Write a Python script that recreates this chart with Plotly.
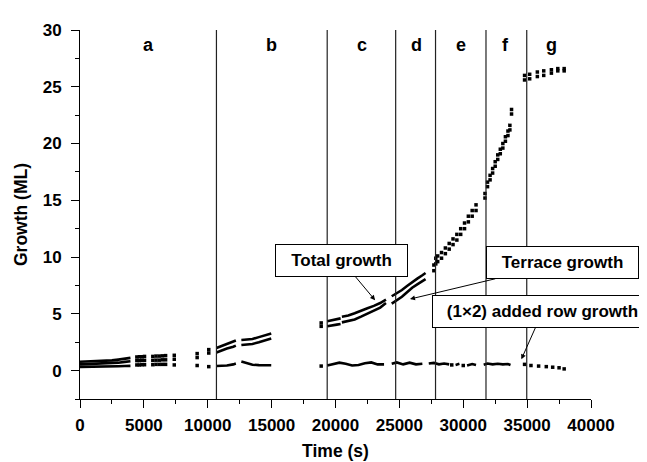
import plotly.graph_objects as go

# ---------------- data ----------------
# Region boundaries (s) and labels
boundaries = [10680, 19350, 24710, 27830, 31780, 34970]
region_labels = ["a", "b", "c", "d", "e", "f", "g"]
region_label_t = [5390, 15020, 22050, 26350, 29840, 33280, 36880]
region_label_g = 28.7

# Continuous (densely sampled) segments: None separates segments
total_line_t = [0, 500, 1000, 1500, 2000, 2500, 3000, 3500, 3950, None,
                10680, 11000, 11500, 12000, 12200, None,
                12630, 13000, 13500, 14000, 14500, 14970, None,
                19350, 19700, 20100, 20400, None,
                20500, 21000, 21500, 22000, 22500, 23000, 23500, 23950, None,
                24400, 24800, 25200, 25600, 26000, 26400, 26800, 27050]
total_line_g = [0.78, 0.8, 0.82, 0.85, 0.88, 0.9, 0.97, 1.07, 1.12, None,
                2.0, 2.15, 2.35, 2.55, 2.65, None,
                2.7, 2.72, 2.78, 2.95, 3.15, 3.27, None,
                4.35, 4.45, 4.55, 4.6, None,
                4.75, 4.85, 5.05, 5.3, 5.5, 5.7, 5.95, 6.25, None,
                6.55, 6.8, 7.1, 7.45, 7.8, 8.1, 8.4, 8.6]

terrace_line_t = total_line_t
terrace_line_g = [0.55, 0.57, 0.6, 0.62, 0.64, 0.66, 0.7, 0.77, 0.83, None,
                  1.6, 1.75, 1.95, 2.1, 2.2, None,
                  2.25, 2.3, 2.35, 2.5, 2.7, 2.83, None,
                  3.9, 4.0, 4.05, 4.1, None,
                  4.25, 4.35, 4.5, 4.75, 5.0, 5.25, 5.55, 5.95, None,
                  5.9, 6.2, 6.5, 6.9, 7.3, 7.6, 7.85, 8.05]

added_line_t = [0, 500, 1000, 1500, 2000, 2500, 3000, 3500, 3950, None,
                10680, 11000, 11500, 12000, 12200, None,
                12630, 13000, 13500, 14000, 14500, 14970, None,
                19350, 19800, 20300, 20800, 21300, 21800, 22300, 22800, 23300, 23800, None,
                24400, 24800, 25300, 25800, 26300, 26800, None,
                27300, 27700, 28100, 28500, 28900, None,
                29400, 29700, None, 30300, 30700, 31000, None,
                31600, 31900, 32300, 32700, 33100, 33500, 33700]
added_line_g = [0.33, 0.33, 0.34, 0.35, 0.36, 0.37, 0.38, 0.4, 0.42, None,
                0.4, 0.42, 0.45, 0.55, 0.62, None,
                0.8, 0.68, 0.52, 0.48, 0.48, 0.47, None,
                0.45, 0.6, 0.7, 0.6, 0.45, 0.5, 0.65, 0.72, 0.55, 0.55, None,
                0.6, 0.72, 0.55, 0.7, 0.55, 0.6, None,
                0.62, 0.68, 0.55, 0.62, 0.55, None,
                0.5, 0.6, None, 0.45, 0.58, 0.5, None,
                0.52, 0.62, 0.55, 0.6, 0.55, 0.58, 0.5]

# Sparse (individually visible) points
total_pts_t = [4450, 4650, 4850, 5050, 5700, 5950, 6200, 6450, 6700, 7380, 9170, 10080,
               18880,
               27700, 27850, 28000, 28300, 28600, 28900, 29200, 29500, 29800, 30100, 30400, 30700, 31000,
               31700, 31900, 32100, 32300, 32500, 32700, 32900, 33100, 33300, 33500, 33650, 33780,
               34800, 35200, 35800, 36300, 36900, 37400, 37900]
total_pts_g = [1.2, 1.22, 1.22, 1.25, 1.25, 1.28, 1.28, 1.3, 1.32, 1.35, 1.5, 1.85,
               4.2,
               9.3, 9.9, 10.1, 10.4, 10.8, 11.2, 11.6, 12.0, 12.5, 13.0, 13.6, 14.1, 14.6,
               15.6, 16.6, 17.2, 17.8, 18.4, 19.0, 19.5, 20.0, 20.6, 21.1, 21.6, 23.0,
               26.0, 26.1, 26.3, 26.4, 26.5, 26.6, 26.6]

terrace_pts_t = total_pts_t
terrace_pts_g = [0.88, 0.88, 0.9, 0.9, 0.9, 0.92, 0.92, 0.95, 0.95, 1.0, 1.15, 1.55,
                 3.9,
                 8.8, 9.4, 9.6, 9.9, 10.3, 10.7, 11.1, 11.5, 12.0, 12.5, 13.1, 13.6, 14.1,
                 15.2, 16.2, 16.8, 17.4, 18.0, 18.6, 19.1, 19.6, 20.2, 20.7, 21.2, 22.6,
                 25.6, 25.7, 25.9, 26.0, 26.2, 26.4, 26.4]

added_pts_t = [4450, 4650, 4850, 5050, 5700, 5950, 6200, 6450, 6700, 7380, 9170, 10080,
               18880, 29100, 30000,
               34800, 35300, 35900, 36500, 37000, 37500, 37900]
added_pts_g = [0.5, 0.5, 0.52, 0.52, 0.52, 0.55, 0.55, 0.55, 0.55, 0.5, 0.45, 0.35,
               0.4, 0.5, 0.45,
               0.55, 0.45, 0.4, 0.35, 0.3, 0.25, 0.15]

x_ticks = [0, 5000, 10000, 15000, 20000, 25000, 30000, 35000, 40000]
y_ticks = [0, 5, 10, 15, 20, 25, 30]

# ---------------- figure ----------------
FONT = "Liberation Sans, Arial, sans-serif"
fig = go.Figure()

for t, g in [(total_line_t, total_line_g), (terrace_line_t, terrace_line_g),
             (added_line_t, added_line_g)]:
    fig.add_trace(go.Scatter(x=t, y=g, mode="lines", connectgaps=False,
                             line=dict(color="black", width=2.6),
                             showlegend=False, hoverinfo="skip"))

for t, g in [(total_pts_t, total_pts_g), (terrace_pts_t, terrace_pts_g),
             (added_pts_t, added_pts_g)]:
    fig.add_trace(go.Scatter(x=t, y=g, mode="markers",
                             marker=dict(color="black", size=3.5, symbol="square"),
                             showlegend=False, hoverinfo="skip"))

for b in boundaries:
    fig.add_shape(type="line", xref="x", yref="paper", x0=b, x1=b, y0=0, y1=1,
                  line=dict(color="#222", width=1.2))

for lab, t in zip(region_labels, region_label_t):
    fig.add_annotation(x=t, y=region_label_g, text=f"<b>{lab}</b>", showarrow=False,
                       font=dict(family=FONT, size=18, color="black"))

box = dict(bgcolor="white", bordercolor="black", borderwidth=1, borderpad=4, height=23,
           showarrow=True, arrowhead=2, arrowsize=1, arrowwidth=1, arrowcolor="black",
           axref="x", ayref="y", font=dict(family=FONT, size=17, color="black"))
fig.add_annotation(x=23100, y=6.2, ax=20500, ay=9.7, width=123,
                   text="<b>Total growth</b>", **box)
fig.add_annotation(x=25830, y=6.3, ax=37770, ay=9.5, width=143,
                   text="<b>Terrace growth</b>", **box)
fig.add_annotation(x=34550, y=1.0, ax=36210, ay=5.2, width=211,
                   text="<b>(1×2) added row growth</b>", **box)

axis_common = dict(showline=True, linecolor="black", linewidth=1, ticks="outside",
                   ticklen=8, tickwidth=1, tickcolor="black", showgrid=False, zeroline=False,
                   tickfont=dict(family=FONT, size=17, color="black"),
                   mirror=False)
fig.update_xaxes(range=[0, 40000], tickvals=x_ticks,
                 ticktext=[f"<b>{v}</b>" for v in x_ticks],
                 ticklabelstandoff=3,
                 minor=dict(dtick=2500, ticks="outside", ticklen=4, tickcolor="black"),
                 title=dict(text="<b>Time (s)</b>", font=dict(family=FONT, size=17.5, color="black"),
                            standoff=10),
                 **axis_common)
fig.update_yaxes(range=[-2.5, 30], tickvals=y_ticks,
                 ticktext=[f"<b>{v}</b>" for v in y_ticks],
                 ticklabelstandoff=6,
                 minor=dict(tick0=0, dtick=2.5, ticks="outside", ticklen=4, tickcolor="black"),
                 title=dict(text="<b>Growth (ML)</b>", font=dict(family=FONT, size=17.5, color="black"),
                            standoff=10),
                 **axis_common)

fig.update_layout(width=647, height=462, plot_bgcolor="white", paper_bgcolor="white",
                  margin=dict(l=71, r=64, t=22, b=63), showlegend=False)

fig.write_html("out.html")
